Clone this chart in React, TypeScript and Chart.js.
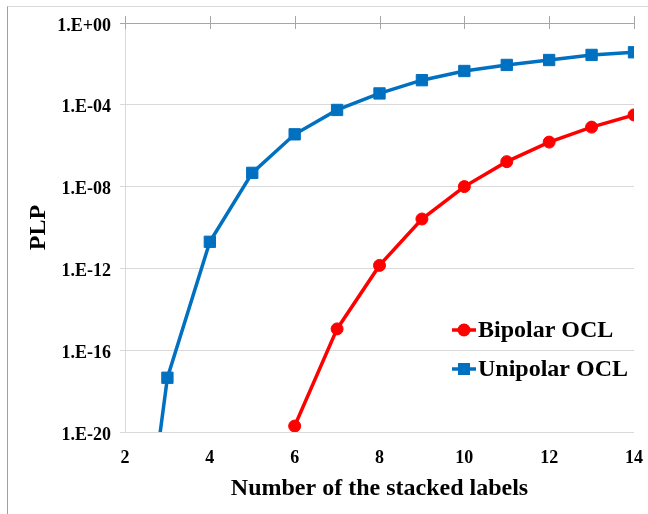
import { useEffect, useRef } from 'react';
import { Chart, registerables } from 'chart.js';

Chart.register(...registerables);

// Number of stacked labels
const stackedLabels = [2, 3, 4, 5, 6, 7, 8, 9, 10, 11, 12, 13, 14];

// PLP values (log scale)
const bipolarPLP: (number | null)[] = [
  null, null, null, null, 1.95e-20, 1.1e-15, 1.4e-12, 2.6e-10, 1.0e-8, 1.66e-7, 1.5e-6, 8.1e-6, 3.2e-5,
];
const unipolarPLP: (number | null)[] = [
  1e-33, 4.5e-18, 2.0e-11, 4.7e-8, 3.6e-6, 5.6e-5, 3.6e-4, 1.6e-3, 4.5e-3, 8.9e-3, 1.55e-2, 2.75e-2, 3.7e-2,
];

const yTickValues = [1e-20, 1e-16, 1e-12, 1e-8, 1e-4, 1];
const yTickLabels = ['1.E-20', '1.E-16', '1.E-12', '1.E-08', '1.E-04', '1.E+00'];
const xTickValues = [2, 4, 6, 8, 10, 12, 14];

const seriesNames = ['Bipolar OCL', 'Unipolar OCL'];

const FONT = "'Liberation Serif', 'Times New Roman', serif";

const topAxisPlugin = {
  id: 'topAxis',
  beforeDatasetsDraw(chart: any) {
    const { ctx, chartArea, scales } = chart;
    const xs = scales.x;
    ctx.save();
    ctx.strokeStyle = '#a6a6a6';
    ctx.lineWidth = 1;
    xTickValues.forEach((v) => {
      const px = Math.round(xs.getPixelForValue(v)) + 0.5;
      ctx.beginPath();
      ctx.moveTo(px, chartArea.top - 7);
      ctx.lineTo(px, chartArea.top + 6);
      ctx.stroke();
    });
    ctx.strokeStyle = '#d9d9d9';
    const lx = Math.round(chartArea.left) + 0.5;
    ctx.beginPath();
    ctx.moveTo(lx, chartArea.top + 6);
    ctx.lineTo(lx, chartArea.bottom);
    ctx.stroke();
    ctx.restore();
  },
};

const legendPlugin = {
  id: 'insideLegend',
  afterDraw(chart: any) {
    const { ctx } = chart;
    ctx.save();
    chart.data.datasets.forEach((ds: any, i: number) => {
      const y = 330 + i * 39;
      const x0 = 452;
      const x1 = 476;
      ctx.strokeStyle = ds.borderColor;
      ctx.lineWidth = ds.borderWidth;
      ctx.beginPath();
      ctx.moveTo(x0, y);
      ctx.lineTo(x1, y);
      ctx.stroke();
      ctx.fillStyle = ds.backgroundColor;
      if (ds.pointStyle === 'rect') {
        ctx.fillRect(x0 + 12 - 6, y - 6, 12, 12);
      } else {
        ctx.beginPath();
        ctx.arc(x0 + 12, y, 6.5, 0, Math.PI * 2);
        ctx.fill();
      }
      ctx.fillStyle = '#000';
      ctx.font = `bold 24px ${FONT}`;
      ctx.textAlign = 'left';
      ctx.textBaseline = 'middle';
      ctx.fillText(ds.label, 478, y + 1);
    });
    ctx.restore();
  },
};

export default function App() {
  const canvasRef = useRef<HTMLCanvasElement | null>(null);

  useEffect(() => {
    if (!canvasRef.current) return;
    const chart = new Chart(canvasRef.current, {
      type: 'line',
      data: {
        datasets: [
          {
            label: seriesNames[0],
            data: stackedLabels.map((x, i) => ({ x, y: bipolarPLP[i] })) as any,
            borderColor: '#ff0000',
            backgroundColor: '#ff0000',
            borderWidth: 3.5,
            pointStyle: 'circle',
            pointRadius: 6,
            pointBorderWidth: 1,
            spanGaps: false,
          },
          {
            label: seriesNames[1],
            data: stackedLabels.map((x, i) => ({ x, y: unipolarPLP[i] })) as any,
            borderColor: '#0070c0',
            backgroundColor: '#0070c0',
            borderWidth: 3.5,
            pointStyle: 'rect',
            pointRadius: 8,
            pointBorderWidth: 1,
          },
        ],
      },
      options: {
        animation: false,
        responsive: false,
        devicePixelRatio: 1,
        layout: { padding: { left: 0, right: 14, top: 23, bottom: 0 } },
        plugins: {
          legend: { display: false },
          tooltip: { enabled: false },
        },
        scales: {
          x: {
            type: 'linear',
            min: 2,
            max: 14,
            afterBuildTicks: (scale: any) => {
              scale.ticks = xTickValues.map((v) => ({ value: v }));
            },
            afterFit: (scale: any) => {
              scale.height = 82;
              scale.paddingLeft = 0;
              scale.paddingRight = 0;
            },
            grid: { display: false },
            border: { display: false },
            ticks: {
              color: '#000',
              padding: 8,
              maxRotation: 0,
              font: { family: FONT, size: 18, weight: 'bold' },
            },
            title: {
              display: true,
              text: 'Number of the stacked labels',
              color: '#000',
              font: { family: FONT, size: 24, weight: 'bold' },
              padding: { top: 0, bottom: 11 },
            },
          },
          y: {
            type: 'logarithmic',
            min: 1e-20,
            max: 1,
            afterBuildTicks: (scale: any) => {
              scale.ticks = yTickValues.map((v) => ({ value: v }));
            },
            afterFit: (scale: any) => {
              scale.width = 125;
              scale.paddingTop = 0;
              scale.paddingBottom = 0;
            },
            grid: {
              color: (c: any) => (c.tick && c.tick.value === 1 ? '#a6a6a6' : '#d9d9d9'),
              lineWidth: 1,
              drawTicks: true,
              tickLength: 5,
            },
            border: { display: false },
            ticks: {
              color: '#000',
              padding: 9,
              labelOffset: 3,
              font: { family: FONT, size: 18, weight: 'bold' },
              callback: (value: any) => {
                const idx = yTickValues.findIndex((v) => Math.abs(Math.log10(v) - Math.log10(Number(value))) < 1e-6);
                return idx >= 0 ? yTickLabels[idx] : '';
              },
            },
            title: {
              display: true,
              text: 'PLP',
              color: '#000',
              font: { family: FONT, size: 24, weight: 'bold' },
              padding: { top: 24, bottom: 0 },
            },
          },
        },
      },
      plugins: [topAxisPlugin, legendPlugin],
    });
    return () => chart.destroy();
  }, []);

  return (
    <div style={{ position: 'absolute', left: 0, top: 0, width: 648, height: 514, background: '#fff' }}>
      <div
        style={{
          position: 'absolute',
          left: 7,
          top: 6,
          right: 0,
          bottom: 0,
          borderTop: '1px solid #d9d9d9',
          borderLeft: '1px solid #a0a0a0',
        }}
      />
      <canvas ref={canvasRef} width={648} height={514} style={{ position: 'absolute', left: 0, top: 0 }} />
    </div>
  );
}
